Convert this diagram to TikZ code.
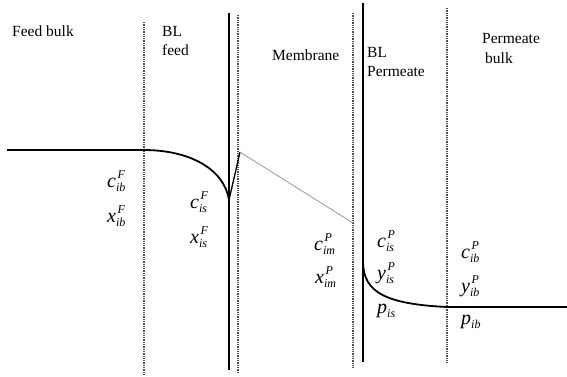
\documentclass[tikz,border=0pt]{standalone}
\usepackage{fontspec}
\setmainfont{Liberation Serif}
\newcommand\mysc[1]{{\fontsize{12}{12}\selectfont\textit{#1}}}
\newcommand\mylab[3]{{\fontsize{20}{22}\selectfont\textit{#1}}\makebox[0pt][l]{\hspace{1.5pt}\raisebox{9pt}{\mysc{#2}}}\raisebox{-4pt}{\mysc{#3}}}
\newcommand\mypl[2]{{\fontsize{20}{22}\selectfont\textit{#1}}\raisebox{-4pt}{\mysc{#2}}}
\begin{document}
\begin{tikzpicture}[x=1pt,y=-1pt,
  font=\fontsize{15.5}{17}\selectfont,
  txt/.style={inner sep=0pt, anchor=base west},
  solidwall/.style={line width=2.6pt},
  dotwall/.style={densely dotted, line width=1.3pt, black!70},
  profile/.style={line width=1.8pt},
  memline/.style={line width=0.8pt, black!40}]
\useasboundingbox (0,0) rectangle (567,376);
% walls
\draw[dotwall] (144,22) -- (144,376);
\draw[solidwall] (229,13) -- (229,370);
\draw[dotwall] (238,15) -- (238,372);
\draw[dotwall] (353,13) -- (353,368);
\draw[solidwall] (363,3) -- (363,362);
\draw[dotwall] (447,8) -- (447,363);
% profile points
\coordinate (fstart) at (7,150);
\coordinate (fb) at (144,150);
\coordinate (fs) at (229,200);
\coordinate (mf) at (240,152);
\coordinate (mp) at (353,223);
\coordinate (ps) at (363,263);
\coordinate (pb) at (447,307);
\coordinate (pend) at (567,307);
\draw[profile] (fstart) -- (fb) .. controls (188,150) and (224,168) .. (fs);
\draw[line width=1.3pt] (fs) -- (mf);
\draw[memline] (mf) -- (mp);
\draw[profile] (ps) .. controls (364,292) and (385,304) .. (pb) -- (pend);
% region labels
\node[txt] (t1) at (12,36) {Feed bulk};
\node[txt] (t2) at (162,36) {BL};
\node[txt] (t3) at (162,55) {feed};
\node[txt] (t4) at (272,60) {Membrane};
\node[txt] (t5) at (367,57) {BL};
\node[txt] (t6) at (367,76) {Permeate};
\node[txt] (t7) at (482,43) {Permeate};
\node[txt] (t8) at (485,63) {bulk};
% quantities
\node[txt] (q1) at (107,187) {\mylab{c}{F}{ib}};
\node[txt] (q2) at (107,222) {\mylab{x}{F}{ib}};
\node[txt] (q3) at (190,208) {\mylab{c}{F}{is}};
\node[txt] (q4) at (190,243) {\mylab{x}{F}{is}};
\node[txt] (q5) at (314,250) {\mylab{c}{P}{im}};
\node[txt] (q6) at (315,283) {\mylab{x}{P}{im}};
\node[txt] (q7) at (377,247) {\mylab{c}{P}{is}};
\node[txt] (q8) at (377,279) {\mylab{y}{P}{is}};
\node[txt] (q9) at (377,313) {\mypl{p}{is}};
\node[txt] (q10) at (461,258) {\mylab{c}{P}{ib}};
\node[txt] (q11) at (461,292) {\mylab{y}{P}{ib}};
\node[txt] (q12) at (461,324) {\mypl{p}{ib}};
\end{tikzpicture}
\end{document}
